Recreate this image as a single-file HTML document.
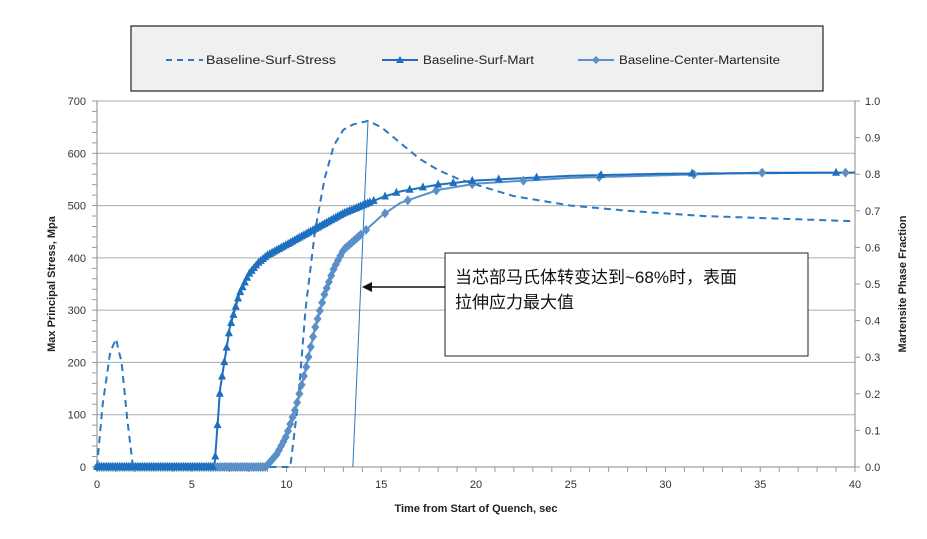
<!DOCTYPE html>
<html><head><meta charset="utf-8"><style>
body{margin:0;background:#fff;width:927px;height:534px;overflow:hidden}
text{font-family:"Liberation Sans","Noto Sans CJK SC",sans-serif}
</style></head><body>
<svg id="s" width="927" height="534" xmlns="http://www.w3.org/2000/svg">
<rect x="131" y="26" width="692" height="65" fill="#f0f0f0" stroke="#222" stroke-width="1.2"/>
<line x1="166" y1="60" x2="203" y2="60" stroke="#2b79c2" stroke-width="2" stroke-dasharray="6,5"/>
<text x="206" y="64" font-size="11.5" fill="#222" textLength="130" lengthAdjust="spacingAndGlyphs">Baseline-Surf-Stress</text>
<line x1="382" y1="60" x2="418" y2="60" stroke="#1f6fbf" stroke-width="2"/>
<polygon points="400,56 396,63 404,63" fill="#1f6fbf"/>
<text x="423" y="64" font-size="11.5" fill="#222" textLength="111" lengthAdjust="spacingAndGlyphs">Baseline-Surf-Mart</text>
<line x1="578" y1="60" x2="614" y2="60" stroke="#5b8fc7" stroke-width="2"/>
<polygon points="596,56 600,60 596,64 592,60" fill="#5b8fc7"/>
<text x="619" y="64" font-size="11.5" fill="#222" textLength="161" lengthAdjust="spacingAndGlyphs">Baseline-Center-Martensite</text>
<g id="g"></g>
<rect x="445" y="253" width="363" height="103" fill="#fff" stroke="#222" stroke-width="1"/>
<text x="455" y="283" font-size="17" fill="#111">当芯部马氏体转变达到~68%时，表面</text>
<text x="455" y="308" font-size="17" fill="#111">拉伸应力最大值</text>
<line x1="445" y1="287" x2="370" y2="287" stroke="#111" stroke-width="1.5"/>
<polygon points="362,287 372,282 372,292" fill="#111"/>
<text x="476" y="512" font-size="11" font-weight="bold" text-anchor="middle" fill="#222">Time from Start of Quench, sec</text>
<text transform="translate(55,284) rotate(-90)" font-size="11" font-weight="bold" text-anchor="middle" fill="#222">Max Principal Stress, Mpa</text>
<text transform="translate(906,284) rotate(-90)" font-size="11" font-weight="bold" text-anchor="middle" fill="#222">Martensite Phase Fraction</text>
</svg>
<script>
const g=document.getElementById('g');let h='';
const X=t=>97+t*(758/40),Y=v=>467-v*366/700;
for(let v=100;v<=700;v+=100)h+=`<line x1="97" y1="${Y(v)}" x2="855" y2="${Y(v)}" stroke="#aaa"/>`;
h+=`<line x1="97" y1="101" x2="97" y2="467" stroke="#888"/><line x1="855" y1="101" x2="855" y2="467" stroke="#888"/><line x1="97" y1="467" x2="855" y2="467" stroke="#888"/>`;
for(let v=0;v<=700;v+=20)h+=`<line x1="92" y1="${Y(v)}" x2="97" y2="${Y(v)}" stroke="#999"/>`;
for(let i=0;i<=10;i++){let y=467-i*36.6;h+=`<line x1="855" y1="${y}" x2="860" y2="${y}" stroke="#999"/><text x="865" y="${y+4}" font-size="11" fill="#333">${(i/10).toFixed(1)}</text>`;}
for(let v=0;v<=700;v+=100)h+=`<text x="86" y="${Y(v)+4}" font-size="11" fill="#333" text-anchor="end">${v}</text>`;
for(let t=0;t<=40;t+=1)h+=`<line x1="${X(t)}" y1="467" x2="${X(t)}" y2="472" stroke="#999"/>`;
for(let t=0;t<=40;t+=5)h+=`<text x="${X(t)}" y="488" font-size="11" fill="#333" text-anchor="middle">${t}</text>`;
function interp(p,t){if(t<=p[0][0])return p[0][1];for(let i=1;i<p.length;i++)if(t<=p[i][0]){let a=p[i-1],b=p[i];return a[1]+(b[1]-a[1])*(t-a[0])/(b[0]-a[0]);}return p[p.length-1][1];}
const S=[[0,0],[0.3,120],[0.7,220],[1,245],[1.3,200],[1.6,90],[1.9,0],[10.2,0],[10.6,120],[11,300],[11.5,450],[12,550],[12.5,615],[13,645],[13.5,655],[14.3,662],[15,650],[16,620],[17,590],[18,568],[19,552],[20,540],[22,518],[25,500],[28,490],[32,480],[36,475],[40,470]];
const M=[[0,0],[6.2,0],[6.5,150],[7,265],[7.5,330],[8,368],[8.5,390],[9,405],[10,425],[11,445],[12,465],[13,485],[14,500],[15,515],[16,527],[18,540],[20,548],[25,557],[30,561],[40,563]];
const C=[[0,0],[8.9,0],[9.5,25],[10,60],[10.5,115],[11,185],[11.5,265],[12,330],[12.5,380],[13,415],[14,447],[15,480],[16,505],[18,530],[20,542],[25,553],[30,558],[35,563],[40,563]];
function path(p){let d='';for(let t=0;t<=40;t+=0.05)d+=(d?'L':'M')+X(t).toFixed(1)+','+Y(interp(p,t)).toFixed(1);return d;}
h+=`<path d="${path(S)}" fill="none" stroke="#2b79c2" stroke-width="2" stroke-dasharray="7,5"/>`;
h+=`<line x1="${X(13.5)}" y1="467" x2="${X(14.3)}" y2="${Y(662)}" stroke="#2b79c2" stroke-width="1"/>`;
h+=`<path d="${path(C)}" fill="none" stroke="#5b8fc7" stroke-width="2"/>`;
h+=`<path d="${path(M)}" fill="none" stroke="#1f6fbf" stroke-width="2"/>`;
let tc=[];for(let t=0;t<14;t+=0.12)tc.push(t);tc.push(14.2,15.2,16.4,17.9,19.8,22.5,26.5,31.5,35.1,39.5);
tc.forEach(t=>{let x=X(t),y=Y(interp(C,t));h+=`<polygon points="${x},${y-5} ${x+4},${y} ${x},${y+5} ${x-4},${y}" fill="#5b8fc7"/>`;});
let tm=[];for(let t=0;t<14.5;t+=0.12)tm.push(t);tm.push(14.6,15.2,15.8,16.5,17.2,18,18.8,19.8,21.2,23.2,26.6,31.4,39);
tm.forEach(t=>{let x=X(t),y=Y(interp(M,t));h+=`<polygon points="${x},${y-5} ${x+4},${y+3} ${x-4},${y+3}" fill="#1f6fbf"/>`;});
g.innerHTML=h;
</script>
</body></html>
